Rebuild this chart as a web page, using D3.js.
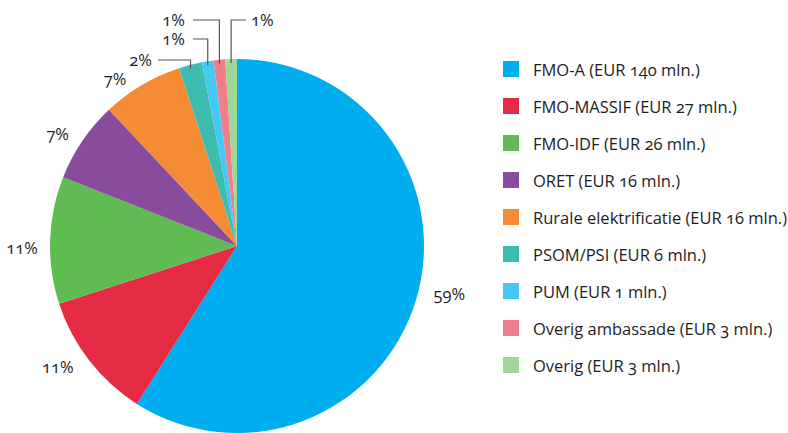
<!DOCTYPE html>
<html><head><meta charset="utf-8">
<script src="https://cdn.jsdelivr.net/npm/d3@7"></script>
<style>
html,body{margin:0;padding:0;background:#fff;}
svg{display:block;font-family:"Open Sans",sans-serif;font-variant-numeric:oldstyle-nums;font-feature-settings:"onum" 1;}
</style></head><body>
<svg id="chart" width="788" height="433"></svg>
<script>
const categories = ["FMO-A","FMO-MASSIF","FMO-IDF","ORET","Rurale elektrificatie","PSOM/PSI","PUM","Overig ambassade","Overig"];
const amounts = [140, 27, 26, 16, 16, 6, 1, 3, 3];
const percentages = [59, 11, 11, 7, 7, 2, 1, 1, 1];
const colors = ["#00aeef","#e42b43","#5fbb52","#884b9e","#f68b35","#3dbdb0","#45c8f4","#ef7f8d","#9fd797"];

// label layout: nudges for outside labels, leader lines for small slices
const nudges = {0:[3,-13], 1:[-7,-12], 2:[3,9], 3:[1,11], 4:[-11,21]};
const leaders = {5:{y:60, x2:158, side:"left", gap:6}, 6:{y:39, x2:193, side:"left", gap:8}, 7:{y:20, x2:193, side:"left", gap:8}, 8:{y:20, x2:246, side:"right", gap:5}};

const svg = d3.select("#chart");
const cx = 237, cy = 246, r = 187, labelR = 218;
const data = categories.map((c,i)=>({name:c, amount:amounts[i], pct:percentages[i], color:colors[i], i}));

const pie = d3.pie().value(d=>d.pct).sort(null);
const arcs = pie(data);
const arc = d3.arc().innerRadius(0).outerRadius(r);
const g = svg.append("g").attr("transform",`translate(${cx},${cy})`);
g.selectAll("path").data(arcs).join("path").attr("d",arc).attr("fill",d=>d.data.color);

const textColor = "#1e1e1e";
const fontSize = 16.5;
arcs.forEach(a=>{
  const mid = (a.startAngle+a.endAngle)/2;
  const L = leaders[a.data.i];
  if(!L){
    const n = nudges[a.data.i] || [0,0];
    const x = cx + labelR*Math.sin(mid) + n[0], y = cy - labelR*Math.cos(mid) + n[1];
    svg.append("text").attr("x",x).attr("y",y).attr("dy","0.35em").attr("text-anchor","middle")
      .attr("font-size",fontSize).attr("fill",textColor).text(a.data.pct+"%");
  } else {
    const ex = cx + r*Math.sin(mid), ey = cy - r*Math.cos(mid);
    svg.append("path").attr("d",`M${ex},${ey+4}V${L.y}H${L.x2}`).attr("fill","none").attr("stroke","#555").attr("stroke-width",1.2);
    const tx = L.side==="left" ? L.x2-L.gap : L.x2+L.gap;
    svg.append("text").attr("x",tx).attr("y",L.y).attr("dy","0.35em").attr("text-anchor",L.side==="left"?"end":"start")
      .attr("font-size",fontSize).attr("fill",textColor).text(a.data.pct+"%");
  }
});

// legend
const ly = d3.scaleBand().domain(categories).range([50.5, 383.5]);
const leg = svg.append("g");
data.forEach(d=>{
  const y = ly(d.name) + ly.bandwidth()/2;
  leg.append("rect").attr("x",503).attr("y",y-8).attr("width",16).attr("height",16).attr("fill",d.color);
  leg.append("text").attr("x",533).attr("y",y+1.5).attr("dy","0.35em").attr("font-size",fontSize).attr("fill",textColor)
    .text(`${d.name} (EUR ${d.amount} mln.)`);
});
</script></body></html>
